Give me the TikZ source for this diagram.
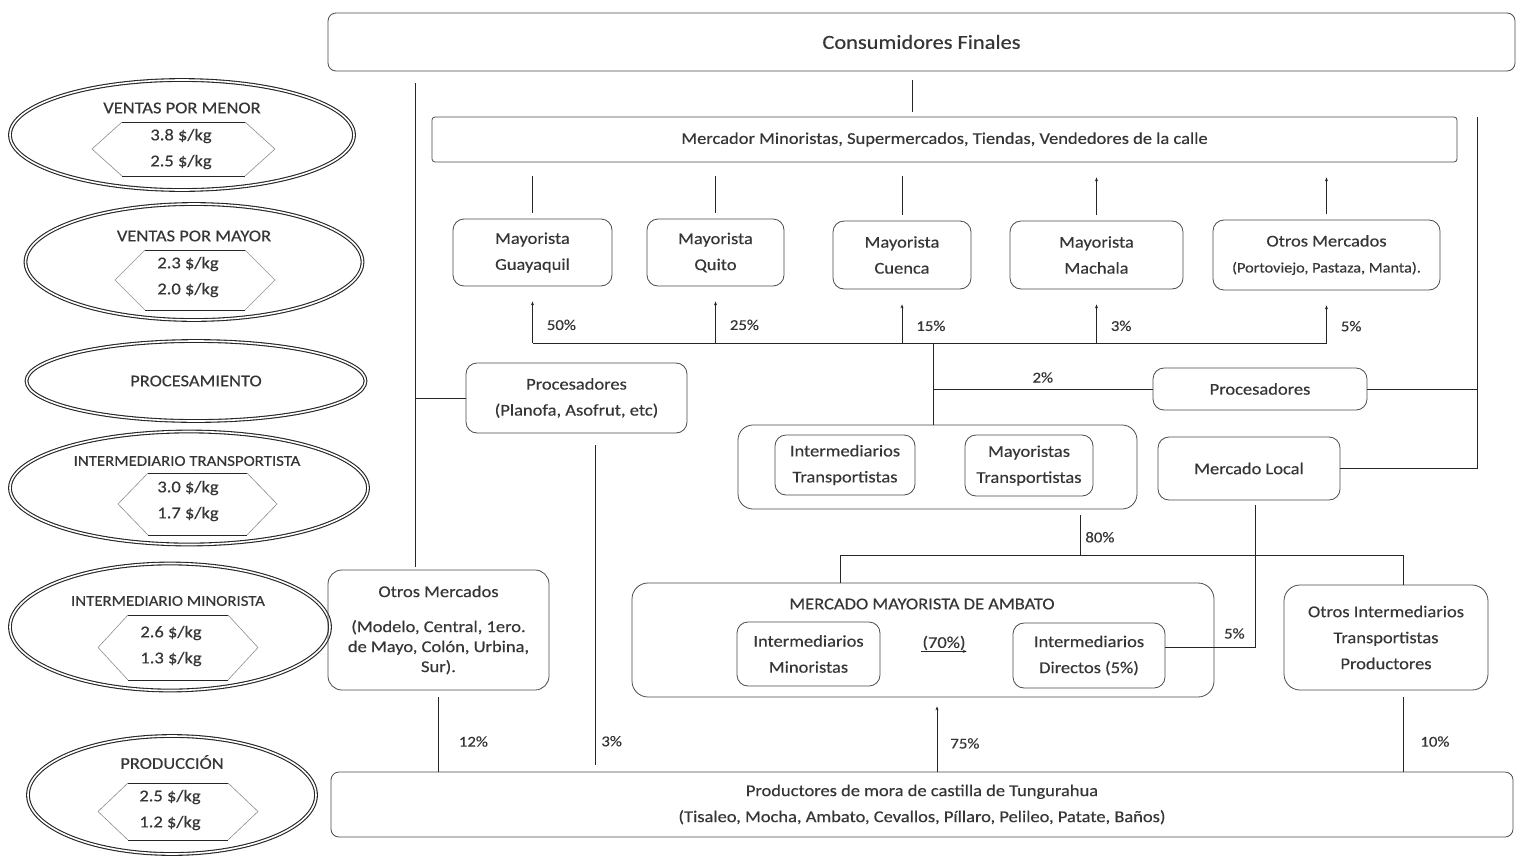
\documentclass[tikz,border=0pt]{standalone}
\usepackage{fontspec}
\setmainfont{Carlito}[FakeStretch=1.12,FakeBold=0.4]
\usetikzlibrary{shapes,positioning,arrows.meta}
\definecolor{txtgray}{HTML}{363636}
\definecolor{boxgray}{HTML}{4A4A4A}
\newcommand{\boxfont}{\fontsize{16.5}{26}\selectfont}
\newcommand{\consfont}{\fontsize{20}{24}\selectfont}
\newcommand{\smallfont}{\fontsize{14.5}{26}\selectfont}
\tikzset{
  box/.style={draw=boxgray, rounded corners=11pt, align=center, inner sep=0pt, text=txtgray, font=\boxfont, line width=0.8pt},
  txt/.style={text=txtgray, font=\boxfont, align=center, inner sep=0pt},
  pct/.style={text=txtgray, font=\fontsize{15}{18}\selectfont, inner sep=0pt},
  lvl/.style={ellipse, draw=black!85, double=white, double distance=1.6pt, line width=1.1pt},
  lvltitle/.style={text=txtgray, font=\fontsize{16.5}{20}\selectfont, inner sep=0pt},
  hexside/.style={draw=black!45, line width=0.6pt},
  hextop/.style={draw=black!85, line width=0.7pt},
  flow/.style={draw=black!85, line width=0.75pt},
  up/.style={flow, -{Stealth[length=4pt,width=3pt]}},
}
% hexagon for prices: left, top, right, bottom
\newcommand{\pricehex}[4]{%
  \draw[hexside] ({#1},{(#2+#4)/2}) -- ({#1+30},{#2}) ({#3-30},{#2}) -- ({#3},{(#2+#4)/2}) -- ({#3-30},{#4}) ({#1+30},{#4}) -- ({#1},{(#2+#4)/2});
  \draw[hextop] ({#1+30},{#2}) -- ({#3-30},{#2}) ({#1+30},{#4}) -- ({#3-30},{#4});
}
\begin{document}
\begin{tikzpicture}[x=1pt,y=-1pt]
\useasboundingbox (0,0) rectangle (1521,857);

% price levels
\node[lvl, minimum width=344, minimum height=110] (lv1) at (182,135) {};
\node[lvltitle] (t1) at (182,108) {VENTAS POR MENOR};
\pricehex{92}{122}{275}{176}
\node[txt] (v1) at (181,149) {3.8 \$/kg\\2.5 \$/kg};

\node[lvl, minimum width=337, minimum height=116] (lv2) at (194,262) {};
\node[lvltitle] (t2) at (194,236) {VENTAS POR MAYOR};
\pricehex{115}{250}{275}{310}
\node[txt] (v2) at (188,277) {2.3 \$/kg\\2.0 \$/kg};

\node[lvl, minimum width=339, minimum height=80] (lv3) at (196,381) {};
\node[lvltitle] (t3) at (196,381) {PROCESAMIENTO};

\node[lvl, minimum width=358, minimum height=113] (lv4) at (189,488) {};
\node[lvltitle, font=\fontsize{15}{18}\selectfont] (t4) at (187,461) {INTERMEDIARIO TRANSPORTISTA};
\pricehex{118}{473}{277}{535}
\node[txt] (v4) at (188,501) {3.0 \$/kg\\1.7 \$/kg};

\node[lvl, minimum width=320, minimum height=127] (lv5) at (170,627) {};
\node[lvltitle, font=\fontsize{15}{18}\selectfont] (t5) at (168,601) {INTERMEDIARIO MINORISTA};
\pricehex{98}{615}{258}{680}
\node[txt] (v5) at (171,646) {2.6 \$/kg\\1.3 \$/kg};

\node[lvl, minimum width=288, minimum height=118] (lv6) at (172,795) {};
\node[lvltitle] (t6) at (172,762) {PRODUCCIÓN};
\pricehex{98}{783}{258}{840}
\node[txt] (v6) at (170,810) {2.5 \$/kg\\1.2 \$/kg};

% chain
\node[box, font=\consfont, rounded corners=8pt, minimum width=1187, minimum height=58] (cons) at (921.5,42) {Consumidores Finales};
\node[box, rounded corners=3pt, minimum width=1025, minimum height=45] (merc) at (944.5,139.5) {Mercador Minoristas, Supermercados, Tiendas, Vendedores de la calle};

\node[box, minimum width=159, minimum height=67] (may1) at (532.5,252.5) {Mayorista\\Guayaquil};
\node[box, minimum width=137, minimum height=67] (may2) at (715.5,252.5) {Mayorista\\Quito};
\node[box, minimum width=138, minimum height=68] (may3) at (902,255) {Mayorista\\Cuenca};
\node[box, minimum width=173, minimum height=68] (may4) at (1096.5,255) {Mayorista\\Machala};
\node[box, minimum width=227, minimum height=70] (may5) at (1326.5,255) {Otros Mercados\\{\smallfont (Portoviejo, Pastaza, Manta).}};

\node[box, minimum width=221, minimum height=70] (procL) at (576.5,398) {Procesadores\\(Planofa, Asofrut, etc)};
\node[box, minimum width=214, minimum height=42] (procR) at (1260,389) {Procesadores};

\node[box, rounded corners=15pt, minimum width=399, minimum height=84] (grp) at (937.5,467) {};
\node[box, minimum width=140, minimum height=60] (intT) at (845,465) {Intermediarios\\Transportistas};
\node[box, minimum width=128, minimum height=61] (mayT) at (1029,465.5) {Mayoristas\\Transportistas};
\node[box, minimum width=182, minimum height=63] (local) at (1249,468.5) {Mercado Local};

\node[box, rounded corners=14pt, font=\fontsize{16.5}{20}\selectfont, minimum width=221, minimum height=120] (otrosL) at (438.5,630) {Otros Mercados\\[15pt](Modelo, Central, 1ero.\\de Mayo, Colón, Urbina,\\Sur).};

\node[box, rounded corners=16pt, minimum width=582, minimum height=114] (mma) at (923,640) {};
\node[txt] (mmat) at (922,604) {MERCADO MAYORISTA DE AMBATO};
\node[box, minimum width=143, minimum height=64] (intMin) at (808.5,654) {Intermediarios\\Minoristas};
\node[box, minimum width=152, minimum height=65] (intDir) at (1089,655.5) {Intermediarios\\Directos (5\%)};
\node[txt, inner sep=1pt] (p70) at (944,643) {(70\%)};

\node[box, rounded corners=16pt, minimum width=204, minimum height=105] (otrosI) at (1386,637.5) {Otros Intermediarios\\Transportistas\\Productores};

\node[box, rounded corners=8pt, minimum width=1182, minimum height=65] (prod) at (922,804.5) {Productores de mora de castilla de Tungurahua\\(Tisaleo, Mocha, Ambato, Cevallos, Píllaro, Pelileo, Patate, Baños)};

% trunk and bus points
\coordinate (xl) at (415,83);
\coordinate (xr) at (1477,117);
\coordinate (xj) at (933,343);
\coordinate (xc) at (912,0);
\coordinate (xp) at (595,0);
\coordinate (xg) at (1080,555);
\coordinate (xm) at (840,0);
\coordinate (xo) at (1403,0);
\coordinate (xd) at (1255,647);
\coordinate (xa) at (937,0);

% vertical lines top
\draw[flow,shorten <=9pt,shorten >=5pt](cons.south -| xc)--(merc.north -| xc);
\foreach \n in {may1,may2,may3}
  \draw[flow,shorten <=14pt,shorten >=6pt](merc.south -| \n)--(\n.north);
\foreach \n in {may4,may5}
  \draw[up,shorten <=6pt,shorten >=15pt](\n.north)--(merc.south -| \n);

% horizontal line to mayoristas
\draw[flow](xj -| may1)--(xj -| may5);
\foreach \n/\p in {may1/50,may2/25,may3/15,may4/3,may5/5}
  \draw[up,shorten >=15pt](xj -| \n)--(\n.south) node[pct,pos=0.32,right=14pt]{\p\%};

\draw[flow](xj)--(grp.north -| xj);
\draw[flow](procR.west -| xj)--(procR.west) node[pct,midway,above=6pt]{2\%};

% right trunk
\draw[flow](procR.east)--(procR.east -| xr);
\draw[flow](local.east)-|(xr);

% left trunk
\draw[flow](procL.west)--(procL.west -| xl);
\draw[flow,shorten >=3pt](xl)--(otrosL.north -| xl);

% down to productores
\draw[flow,shorten <=12pt,shorten >=7pt](procL.south -| xp)--(prod.north -| xp) node[pct,pos=0.91,right=6pt]{3\%};
\draw[flow,shorten <=7pt](otrosL.south)--(prod.north -| otrosL.south) node[pct,pos=0.63,right=20pt]{12\%};
\draw[flow,shorten <=7pt](otrosI.south -| xo)--(prod.north -| xo) node[pct,pos=0.63,right=17pt]{10\%};
\draw[up,shorten >=9pt](prod.north -| xa)--(mma.south -| xa) node[pct,pos=0.38,right=13pt]{75\%};

% 80% split
\draw[flow,shorten <=6pt](grp.south -| xg)--(xg) node[pct,pos=0.61,right=5pt]{80\%};
\draw[flow](xg -| xm)--(xg -| xo);
\draw[flow](xg -| xm)--(mma.north -| xm);
\draw[flow](xg -| xo)--(otrosI.north -| xo);

% mercado local
\draw[flow,shorten <=5pt](local.south -| xd)--(xd) node[pct,above left=8pt and 10pt]{5\%}--(xd -| intDir.east);

% inside mercado mayorista
\draw[up](p70.south west)--(p70.south east);

\end{tikzpicture}
\end{document}
